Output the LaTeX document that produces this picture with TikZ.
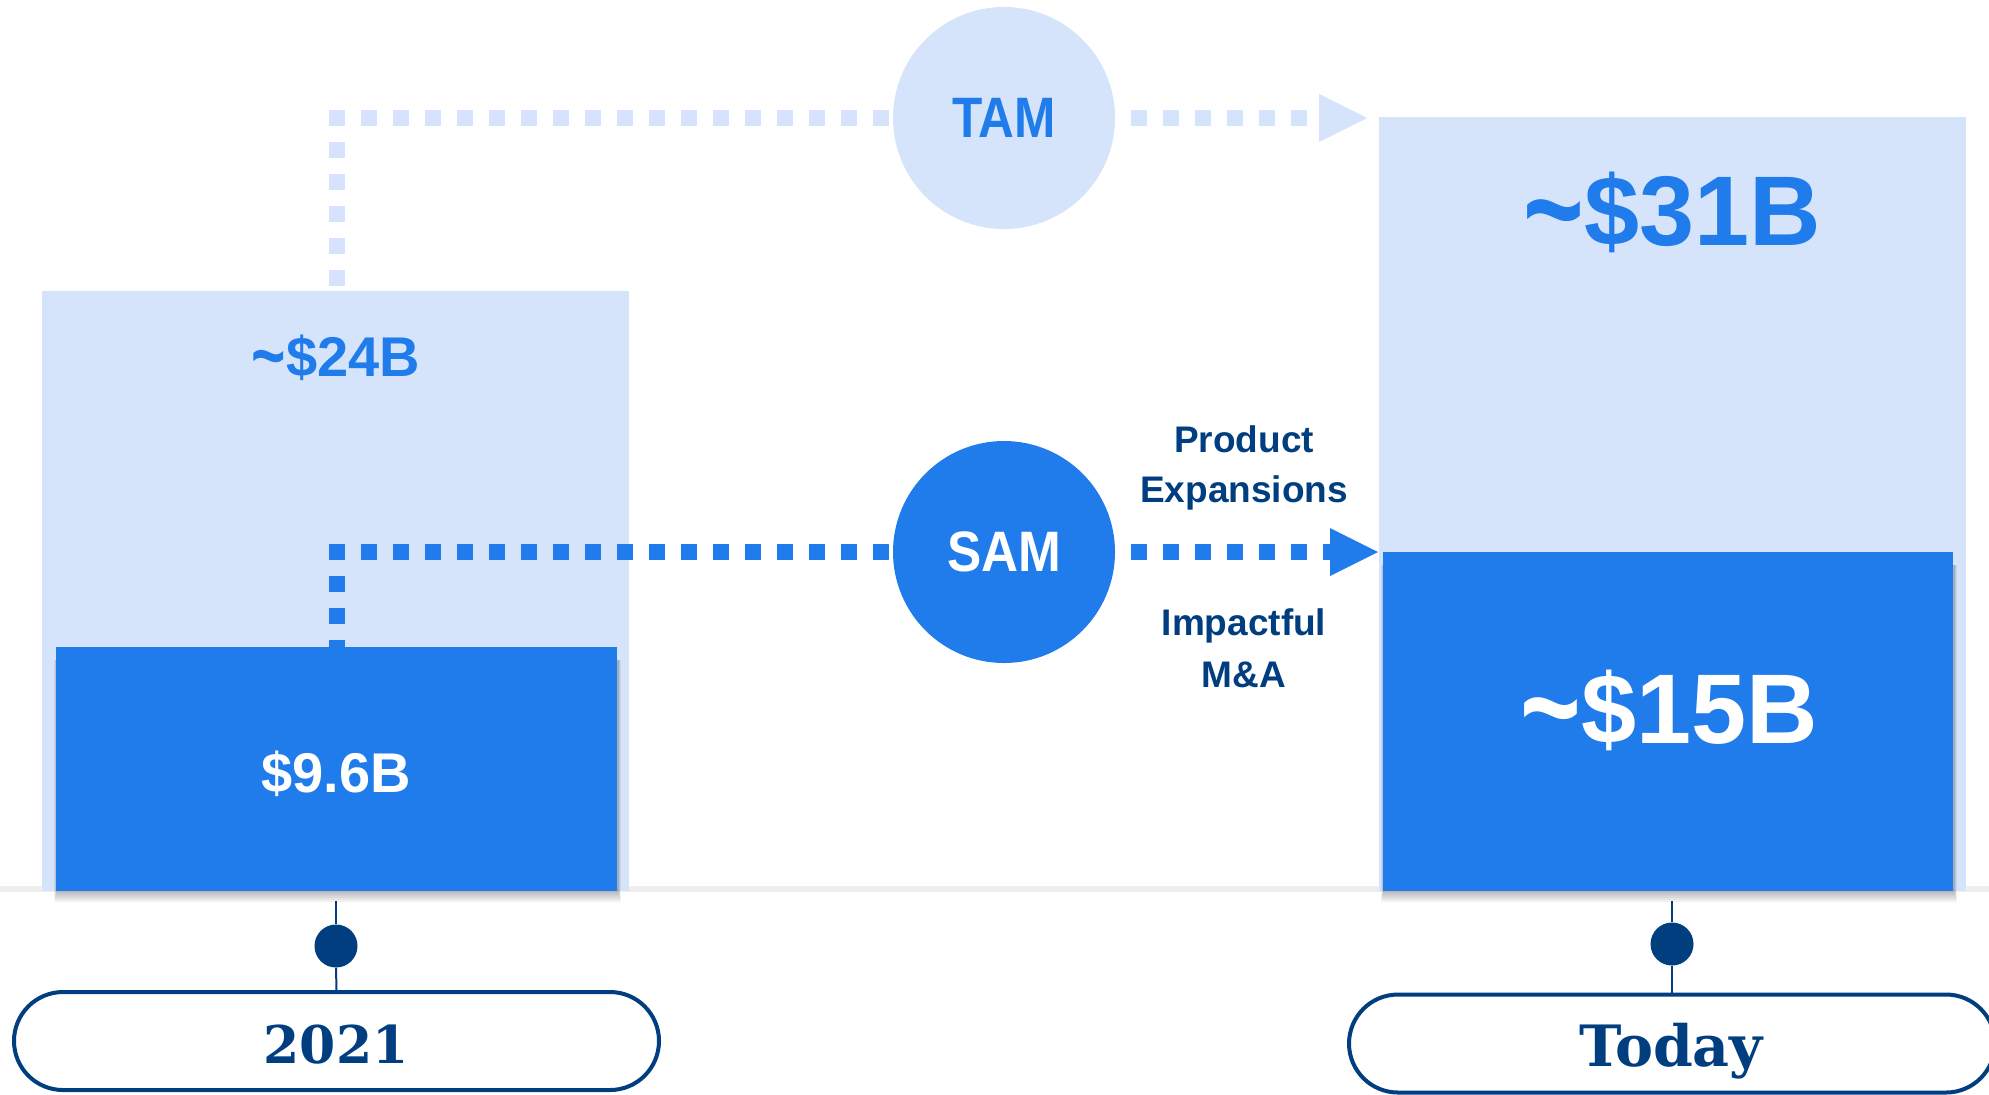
\documentclass[tikz,border=0pt]{standalone}
\usepackage{fontspec}
\setmainfont{Liberation Sans}
\newfontfamily\yearfont{DejaVu Serif}
\definecolor{lightb}{RGB}{213,228,251}
\definecolor{midb}{RGB}{33,124,235}
\definecolor{navyb}{RGB}{0,62,128}
\definecolor{gline}{RGB}{238,238,238}
\newcommand{\bigtilde}{\raisebox{-0.12em}{\scalebox{1.05}[1.4]{\textasciitilde}}}
\tikzset{
  circ/.style={circle, minimum size=111pt, inner sep=0pt, font=\fontsize{28.5}{32}\selectfont\bfseries},
  dotline/.style={line width=8pt, dash pattern=on 8pt off 8pt, line join=miter},
  bigval/.style={anchor=base, font=\fontsize{49.5}{55}\selectfont\bfseries},
  midval/.style={anchor=base, font=\fontsize{28}{32}\selectfont\bfseries},
  note/.style={anchor=base, text=navyb, font=\fontsize{18.5}{22}\selectfont\bfseries},
  tdot/.style={circle, fill=navyb, minimum size=21.5pt, inner sep=0pt},
  pill/.style={rectangle, rounded corners=24.5pt, draw=navyb, line width=2pt, fill=white, minimum height=49pt, inner sep=0pt},
  tline/.style={draw=navyb, line width=1pt},
  yearlabel/.style={anchor=base, text=navyb},
}
\begin{document}
\begin{tikzpicture}[x=0.5pt,y=-0.5pt]
\useasboundingbox (0,0) rectangle (1989,1094);
\fill[white] (0,0) rectangle (1989,1094);
% baseline
\fill[gline] (0,886) rectangle (1989,892);
% light (TAM) bars
\fill[lightb] (42,291) rectangle (629,891);
\fill[lightb] (1379,117) rectangle (1966,891);
% circles
\node[circ, fill=lightb, text=midb] (tam) at (1004,118) {\scalebox{0.87}[1]{TAM}};
\node[circ, fill=midb, text=white] (sam) at (1004,552) {\scalebox{0.9}[1]{SAM}};
% TAM connector
\coordinate (tamfoot) at (337,286);
\coordinate (tamknee) at (337,118);
\coordinate (tamtip) at (1367,118);
\draw[dotline, lightb] (tamfoot) -- (tamknee) -- (tam.west);
\draw[dotline, lightb, dash phase=8pt, shorten >=24pt] (tam.east) -- (tamtip);
\fill[lightb] (tamtip) -- ++(-48,-24) -- ++(0,48) -- cycle;
% SAM connector
\coordinate (samfoot) at (337,656);
\coordinate (samknee) at (337,552);
\coordinate (samtip) at (1378,552);
\draw[dotline, midb] (samfoot) -- (samknee) -- (sam.west);
\draw[dotline, midb, dash phase=8pt, shorten >=24pt] (sam.east) -- (samtip);
\fill[midb] (samtip) -- ++(-48,-24) -- ++(0,48) -- cycle;
% shadows of dark bars
\foreach \i in {1,...,5}{
  \fill[black, opacity=0.05] ({57-0.6*\i},660) rectangle ({618+0.6*\i},{892+2*\i});
  \fill[black, opacity=0.05] ({1384-0.6*\i},565) rectangle ({1954+0.6*\i},{892+2*\i});
}
% dark (SAM) bars
\fill[midb] (56,647) rectangle (617,891);
\fill[midb] (1383,552) rectangle (1953,891);
% values
\node[midval, text=midb] (v24) at (336,376) {\bigtilde\$24B};
\node[midval, text=white] (v96) at (336,792) {\$9.6B};
\node[bigval, text=midb] (v31) at (1672,245) {\bigtilde\$31B};
\node[bigval, text=white] (v15) at (1669,743) {\bigtilde\$15B};
% notes
\node[note] (n1) at (1244,452) {Product};
\node[note] (n2) at (1244,502) {Expansions};
\node[note] (n3) at (1244,635) {Impactful};
\node[note] (n4) at (1244,687) {M\&A};
% timeline left
\coordinate (tlL) at (336,901);
\node[tdot] (dotL) at (336,946) {};
\node[pill, minimum width=322.5pt] (pillL) at (336.5,1041) {};
\draw[tline] (tlL) -- (dotL.north);
\draw[tline] (dotL.south) -- (pillL.north);
\node[yearlabel, font=\yearfont\bfseries\fontsize{26}{30}\selectfont] (y2021) at (336,1063) {2021};
% timeline right
\coordinate (tlR) at (1672,901);
\node[tdot] (dotR) at (1672,944) {};
\node[pill, minimum width=323pt] (pillR) at (1672,1043.5) {};
\draw[tline] (tlR) -- (dotR.north);
\draw[tline] (dotR.south) -- (pillR.north);
\node[yearlabel, font=\yearfont\bfseries\fontsize{28.5}{32}\selectfont] (ytoday) at (1671,1066) {Today};
\end{tikzpicture}
\end{document}
